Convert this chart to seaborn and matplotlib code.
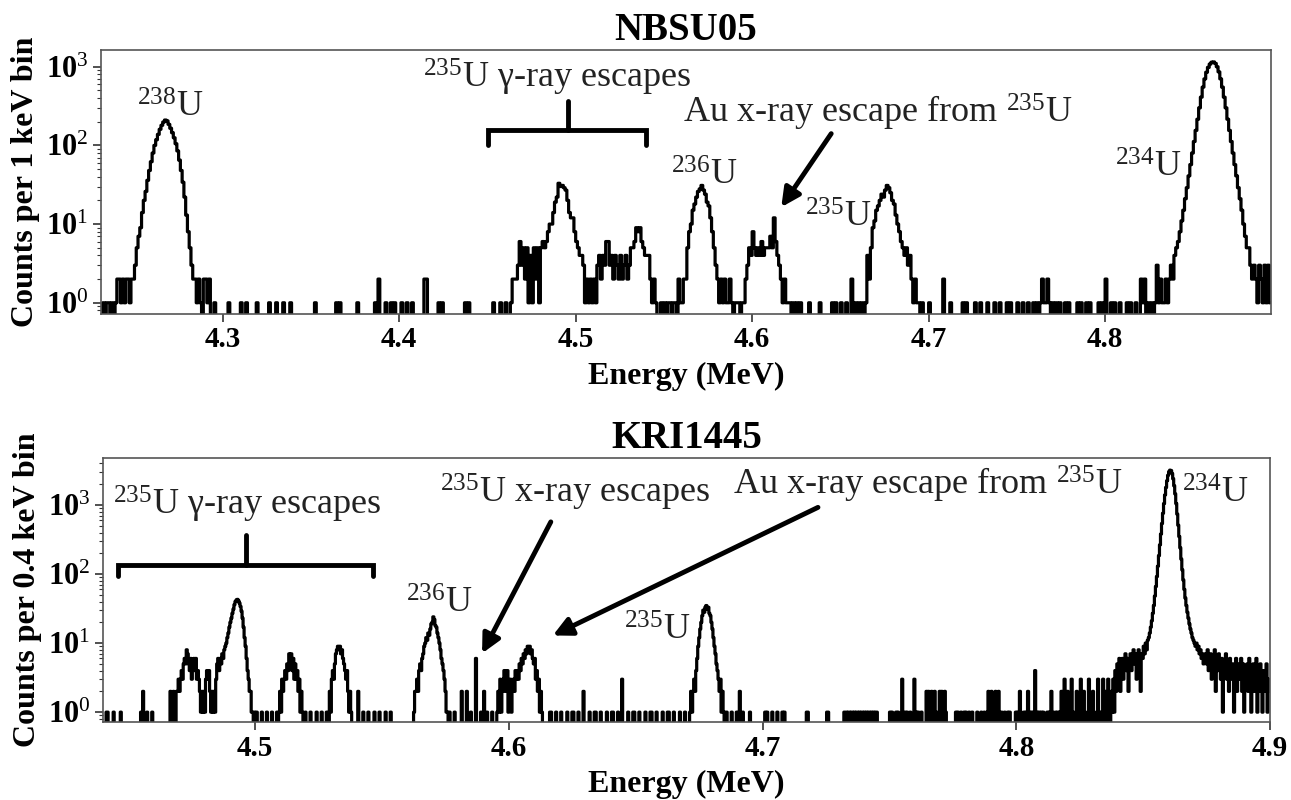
import numpy as np
import pandas as pd
import matplotlib
matplotlib.use("Agg")
import matplotlib.pyplot as plt
import matplotlib.transforms as mtransforms
from matplotlib.ticker import FixedLocator, FuncFormatter, LogLocator, NullFormatter
import seaborn as sns

# ---------------------------------------------------------------- data ----
# binning of the two spectra (MeV)
top_lo, top_hi, top_bin = 4.231, 4.894, 0.001
bot_lo, bot_hi, bot_bin = 4.440, 4.900, 0.0004

# NBSU05, 1 keV bins: peak segments (first-bin energy, counts per bin)
top_u238_start = 4.232
top_u238 = [1, 0, 1, 1, 0, 1, 0, 1, 2, 2, 1, 2, 1, 2, 2, 1, 2,
            2, 3, 5, 7, 9, 14, 20, 26, 36, 48, 62, 80, 100, 118, 138, 160, 180, 198,
            210, 205, 185, 165, 145, 125, 105, 85, 65, 48, 34, 22, 13, 8, 5, 3, 2, 2,
            1, 2, 1, 0, 2, 2, 1, 2, 0, 0, 1]
top_esc_start = 4.462
top_esc = [0, 1, 2, 2, 2, 3, 6, 3, 5, 2, 5, 1, 4, 1, 5, 2, 5, 1, 5, 6, 5, 6, 8, 10, 10,
           14, 19, 22, 33, 30, 31, 29, 27, 20, 14, 12, 12, 8, 6, 5, 4, 4, 3, 1, 2, 1, 2,
           1, 2, 1, 3, 4, 2, 4, 3, 6, 6, 3, 4, 2, 4, 3, 2, 4, 2, 3, 4, 2, 3, 5, 5, 6, 9,
           8, 9, 6, 5, 4, 4, 4, 2, 1, 2, 1, 0, 0, 1, 0, 1, 0, 1, 1, 0, 1, 1, 0, 2, 1]
top_u236_start = 4.560
top_u236 = [1, 2, 2, 5, 8, 10, 15, 18, 22, 26, 28, 31, 27, 24, 19, 17, 12, 8, 5, 3, 2,
            1, 2, 1, 2, 1, 1, 2, 1, 0, 1, 1, 1, 0, 1, 1, 2]
top_au_start = 4.597
top_au = [3, 5, 4, 8, 5, 4, 5, 4, 6, 4, 5, 5, 5, 7, 5, 12, 6, 4, 3, 2, 1, 2, 1]
top_u235_start = 4.660
top_u235 = [1, 0, 1, 0, 1, 4, 2, 5, 9, 11, 15, 17, 20, 24, 22, 27, 31, 29, 25, 20, 18,
            13, 10, 8, 6, 5, 4, 5, 3, 4, 2, 1, 2, 1, 1, 0, 1]
top_u234_start = 4.836
top_u234 = [2, 3, 2, 4, 5, 6, 8, 11, 15, 21, 29, 41, 57, 80, 112, 155, 215, 300, 410,
            550, 700, 850, 980, 1080, 1140, 1150, 1100, 1000, 860, 700, 550, 410, 300,
            215, 155, 112, 80, 57, 41, 29, 21, 15, 10, 7, 5, 5, 3, 2, 3, 2, 1, 3, 2, 1,
            3, 1, 3, 1]
# isolated single counts and small multi-count bins
top_ones = [4.3033, 4.3103, 4.3138, 4.3197, 4.3267, 4.3301, 4.3348, 4.3383, 4.3523,
            4.3640, 4.3663, 4.3768, 4.3861, 4.3920, 4.3955, 4.3978, 4.4012, 4.4048,
            4.4071, 4.4223, 4.4246, 4.4374, 4.4397, 4.4537, 4.4572, 4.4606, 4.620,
            4.621, 4.623, 4.625, 4.627, 4.632, 4.638, 4.645, 4.647, 4.650, 4.653, 4.658,
            4.700, 4.712, 4.719, 4.721, 4.726, 4.729, 4.733, 4.737, 4.740, 4.744, 4.746,
            4.750, 4.753, 4.756, 4.759, 4.761, 4.763, 4.765, 4.766, 4.768, 4.770, 4.772,
            4.774, 4.777, 4.779, 4.784, 4.786, 4.789, 4.791, 4.796, 4.798, 4.803, 4.805,
            4.808, 4.812, 4.814, 4.817, 4.821, 4.824, 4.826, 4.828, 4.830, 4.832, 4.833,
            4.835]
top_multi_e = [4.3885, 4.4141, 4.4153, 4.656, 4.708, 4.764, 4.767, 4.800, 4.820, 4.822,
               4.829, 4.831, 4.834]
top_multi_n = [2, 2, 2, 2, 2, 2, 2, 2, 2, 2, 3, 2, 2]

# KRI1445, 0.4 keV bins
bot_esc1_start = 4.4680
bot_esc1 = [1, 0, 2, 2, 3, 2, 3, 4, 3, 5, 6, 5, 8, 7, 5, 4, 6, 3, 5, 6, 4, 6, 3, 4, 3,
            2, 1, 2, 1, 2, 1, 3, 4, 3, 4, 2, 1, 2, 1,
            2, 1, 3, 5, 6, 4, 6, 5, 7, 6, 8, 9, 10, 12, 14, 17, 20, 23, 27, 31, 36, 40,
            42, 43, 41, 38, 34, 29, 23, 17, 12, 9, 6, 4, 3, 2, 2, 1, 1, 0, 1]
bot_esc2_start = 4.5092
bot_esc2 = [1, 2, 1, 3, 2, 3, 4, 3, 5, 4, 7, 6, 7, 4, 6, 3, 5, 3, 4, 2, 3, 1, 2, 1]
bot_esc3_start = 4.5292
bot_esc3 = [2, 1, 3, 4, 3, 5, 7, 8, 9, 8, 9, 7, 8, 6, 5, 4, 3, 4, 2, 1, 2, 1]
bot_u236_start = 4.5624
bot_u236 = [1, 2, 2, 3, 2, 4, 5, 4, 6, 7, 9, 10, 12, 11, 14, 13, 16, 19, 20, 24, 22,
            18, 17, 14, 12, 10, 8, 6, 5, 4, 3, 2, 1, 1]
bot_au_start = 4.5952
bot_au = [1, 2, 1, 3, 1, 2, 3, 4, 2, 3, 4, 1, 2, 3, 1, 2, 3, 2, 4, 3, 4, 3, 5, 4, 6,
          5, 7, 6, 8, 7, 9, 8, 9, 7, 8, 6, 5, 6, 3, 4, 2, 3, 1, 2, 1]
bot_u235_start = 4.6712
bot_u235 = [1, 2, 1, 2, 3, 2, 4, 6, 9, 12, 16, 20, 25, 30, 28, 33, 35, 31, 33, 27, 25,
            20, 16, 12, 9, 7, 5, 4, 3, 2, 3, 1, 2, 1, 0, 1]
bot_u234_start = 4.8380
bot_u234 = [3, 1, 4, 2, 5, 3, 6, 2, 4, 6, 3, 5, 7, 4, 6, 2, 5, 7, 4, 6, 8, 5, 7, 3, 6,
            8, 5, 2, 7, 6, 9, 7, 10, 8, 11,
            12, 14, 17, 21, 27, 35, 48, 66, 92, 130, 185, 265, 380, 540, 760, 1050,
            1400, 1800, 2250, 2700, 3050, 3200, 3150, 2850, 2400, 1900, 1450, 1050, 740,
            510, 350, 240, 165, 115, 82, 60, 45, 35, 28, 23, 19, 16, 14, 12, 11, 10, 9,
            10, 8, 9, 7, 8, 6, 7, 5, 6,
            7, 5, 8, 4, 6, 7, 3, 6, 5, 8, 2, 6, 4, 7, 5, 3, 6, 1, 5, 4, 7, 3, 5, 2, 6,
            4, 3, 5, 1, 4, 6, 2, 5, 3, 4, 6, 2, 5, 1, 4, 3, 5, 2, 6, 3, 1, 4, 5, 2, 3,
            6, 1, 4, 2, 5, 3, 1, 4, 2, 3, 5, 1, 3, 2]
bot_ones = [4.4412, 4.4416, 4.4440, 4.4468, 4.4548, 4.4552, 4.4572, 4.4592,
            4.5004, 4.5024, 4.5044, 4.5064, 4.5084,
            4.5196, 4.5216, 4.5240, 4.5260, 4.5280,
            4.5424, 4.5444, 4.5468, 4.5488, 4.5512, 4.5532,
            4.5764, 4.5784, 4.5848, 4.5888, 4.5912, 4.5932,
            4.6160, 4.6164, 4.6184, 4.6204, 4.6228, 4.6248, 4.6252, 4.6272, 4.6316,
            4.6336, 4.6340, 4.6360, 4.6384, 4.6404, 4.6408, 4.6428, 4.6468, 4.6488,
            4.6492, 4.6512, 4.6536, 4.6556, 4.6560, 4.6580, 4.6604, 4.6624, 4.6628,
            4.6648, 4.6672, 4.6692,
            4.6856, 4.6876, 4.6896, 4.6920, 4.6948,
            4.7008, 4.7016, 4.7036, 4.7056, 4.7076, 4.7084, 4.7172, 4.7176,
            4.7252, 4.7256, 4.7320, 4.7324, 4.7328, 4.7336, 4.7340, 4.7348, 4.7352,
            4.7360, 4.7368, 4.7372, 4.7380, 4.7388, 4.7392, 4.7400, 4.7408, 4.7416,
            4.7420, 4.7428, 4.7436, 4.7444, 4.7448, 4.7500, 4.7508, 4.7524,
            4.7532, 4.7560, 4.7568, 4.7580, 4.7604, 4.7612, 4.7624, 4.7680, 4.7692,
            4.7708, 4.7720, 4.7760, 4.7768, 4.7780, 4.7792, 4.7800, 4.7812, 4.7824,
            4.7844, 4.7860, 4.7872, 4.7884, 4.7940, 4.7952, 4.7964, 4.7972, 4.7996,
            4.8004, 4.8016, 4.8028, 4.8036, 4.8048, 4.8056, 4.8064, 4.8080, 4.8088,
            4.8096, 4.8104, 4.8120, 4.8128, 4.8140, 4.8152, 4.8160, 4.8168, 4.8196,
            4.8208, 4.8220, 4.8232, 4.8244, 4.8256, 4.8268, 4.8280, 4.8296, 4.8304,
            4.8316, 4.8328, 4.8336, 4.8352, 4.8364, 4.8376]
bot_multi_e = [4.4556, 4.4664, 4.4676, 4.5404, 4.5812, 4.5832, 4.5868, 4.5900, 4.6292,
               4.6444, 4.6908, 4.7548, 4.7596, 4.7644, 4.7652, 4.7664, 4.7676, 4.7696,
               4.7704, 4.7716, 4.7888, 4.7900, 4.7916, 4.7928, 4.8012, 4.8044, 4.8072,
               4.8136, 4.8176, 4.8188, 4.8200, 4.8216, 4.8236, 4.8252, 4.8264, 4.8284,
               4.8300, 4.8320, 4.8340, 4.8348, 4.8360, 4.8372]
bot_multi_n = [2, 2, 2, 2, 2, 2, 6, 2, 2, 3, 2, 3, 3, 2, 2, 2, 2, 2, 2, 2, 2, 2, 2, 2,
               2, 2, 4, 2, 2, 3, 2, 3, 2, 3, 2, 3, 2, 3, 3, 2, 3, 2]

top_xticks = [4.3, 4.4, 4.5, 4.6, 4.7, 4.8]
bot_xticks = [4.5, 4.6, 4.7, 4.8, 4.9]
y_ticks = [1, 10, 100, 1000]


# ------------------------------------------------------------ helpers ----
def build(lo, hi, bw, segments, ones, multi_e, multi_n):
    n = int(round((hi - lo) / bw))
    idx = lambda e: int(np.floor((e - lo) / bw + 1e-6))
    counts = np.zeros(n)
    for e in ones:
        counts[idx(e)] = 1
    for e, c in zip(multi_e, multi_n):
        counts[idx(e)] = c
    for start, vals in segments:
        i0 = idx(start)
        counts[i0:i0 + len(vals)] = vals
    centers = lo + (np.arange(n) + 0.5) * bw
    return pd.DataFrame({"E": centers, "N": np.where(counts > 0, counts, 0.4)})


top_df = build(top_lo, top_hi, top_bin,
               [(top_u238_start, top_u238), (top_esc_start, top_esc),
                (top_u236_start, top_u236), (top_au_start, top_au),
                (top_u235_start, top_u235), (top_u234_start, top_u234)],
               top_ones, top_multi_e, top_multi_n)
bot_df = build(bot_lo, bot_hi, bot_bin,
               [(bot_esc1_start, bot_esc1), (bot_esc2_start, bot_esc2),
                (bot_esc3_start, bot_esc3), (bot_u236_start, bot_u236),
                (bot_au_start, bot_au), (bot_u235_start, bot_u235),
                (bot_u234_start, bot_u234)],
               bot_ones, bot_multi_e, bot_multi_n)

# -------------------------------------------------------------- style ----
sns.set_theme(style="ticks")
plt.rcParams["font.family"] = ["Liberation Serif", "DejaVu Serif"]
plt.rcParams["mathtext.fontset"] = "custom"
plt.rcParams["mathtext.rm"] = "Liberation Serif"
plt.rcParams["mathtext.it"] = "Liberation Serif:italic"
plt.rcParams["mathtext.bf"] = "Liberation Serif:bold"
plt.rcParams["text.color"] = "black"
plt.rcParams["axes.labelcolor"] = "black"
plt.rcParams["axes.titlecolor"] = "black"

XTICK_FS = 21
YTICK_FS = 22
LABEL_FS = 23
TITLE_FS = 28
ANN_FS = 26

fig = plt.figure(figsize=(12.91, 8.0), dpi=100)
ax_top = fig.add_axes([0.0782, 0.6075, 0.9063, 0.33])
ax_bot = fig.add_axes([0.0798, 0.0975, 0.9040, 0.33])


def style_axis(ax, xlim, ylim, xticks, ylabel, title):
    ax.set_yscale("log")
    ax.set_xlim(*xlim)
    ax.set_ylim(*ylim)
    ax.set_xticks(xticks)
    ax.set_xticklabels([f"{t:.1f}" for t in xticks], fontsize=XTICK_FS, fontweight="bold")
    ax.yaxis.set_major_locator(FixedLocator(y_ticks))
    ax.yaxis.set_major_formatter(FuncFormatter(
        lambda v, p: r"$\mathbf{10}^{\mathrm{%d}}$" % int(round(np.log10(v)))))
    ax.yaxis.set_minor_locator(LogLocator(base=10, subs=np.arange(2, 10)))
    ax.yaxis.set_minor_formatter(NullFormatter())
    for lab in ax.get_yticklabels():
        lab.set_fontsize(YTICK_FS)
    ax.tick_params(axis="both", which="major", direction="out", length=6, width=1.2,
                   colors="#333333", labelcolor="black", pad=3)
    ax.tick_params(axis="y", which="minor", direction="out", length=3, width=0.8,
                   colors="#333333")
    ax.tick_params(top=False, right=False)
    for sp in ax.spines.values():
        sp.set_visible(True)
        sp.set_linewidth(1.2)
        sp.set_color("#555555")
    ax.set_xlabel("Energy (MeV)", fontsize=LABEL_FS, fontweight="bold", labelpad=6,
                  color="black")
    ax.set_ylabel(ylabel, fontsize=LABEL_FS, fontweight="bold", labelpad=4,
                  color="black")
    ax.set_title(title, fontsize=TITLE_FS, fontweight="bold", pad=7, color="black")


for ax, df in ((ax_top, top_df), (ax_bot, bot_df)):
    sns.lineplot(data=df, x="E", y="N", ax=ax, color="black", lw=2.3,
                 drawstyle="steps-mid", estimator=None, sort=False)

style_axis(ax_top, (top_lo, top_hi), (0.72, 1630), top_xticks,
           "Counts per 1 keV bin", "NBSU05")
style_axis(ax_bot, (bot_lo, bot_hi), (0.72, 4800), bot_xticks,
           "Counts per 0.4 keV bin", "KRI1445")


# -------------------------------------------------------- annotations ----
def label(ax, x, yfrac, s):
    tr = mtransforms.blended_transform_factory(ax.transData, ax.transAxes)
    ax.text(x, yfrac, s, transform=tr, ha="center", va="baseline",
            fontsize=ANN_FS, color="#222222")


def bracket(ax, x0, x1, xc, ybar, yleg, ytip):
    ax.plot([x0, x0, x1, x1], [yleg, ybar, ybar, yleg], color="black", lw=3.5,
            solid_joinstyle="miter")
    ax.plot([xc, xc], [ybar, ytip], color="black", lw=3.5)


def arrow(ax, xy_from, xy_to):
    ax.annotate("", xy=xy_to, xytext=xy_from,
                arrowprops=dict(arrowstyle="-|>", color="black", lw=3.5,
                                mutation_scale=28, shrinkA=0, shrinkB=0))


label(ax_top, 4.2703, 0.746, r"$^{238}$U")
label(ax_top, 4.4898, 0.856, r"$^{235}$U γ-ray escapes")
label(ax_top, 4.6711, 0.723, r"Au x-ray escape from $^{235}$U")
label(ax_top, 4.5728, 0.489, r"$^{236}$U")
label(ax_top, 4.6487, 0.330, r"$^{235}$U")
label(ax_top, 4.8244, 0.519, r"$^{234}$U")
bracket(ax_top, 4.4504, 4.5400, 4.4958, 155, 100, 370)
arrow(ax_top, (4.6448, 141), (4.6165, 16.4))

label(ax_bot, 4.4969, 0.784, r"$^{235}$U γ-ray escapes")
label(ax_bot, 4.6260, 0.830, r"$^{235}$U x-ray escapes")
label(ax_bot, 4.7650, 0.860, r"Au x-ray escape from $^{235}$U")
label(ax_bot, 4.5723, 0.413, r"$^{236}$U")
label(ax_bot, 4.6583, 0.311, r"$^{235}$U")
label(ax_bot, 4.8783, 0.830, r"$^{234}$U")
bracket(ax_bot, 4.4461, 4.5463, 4.4965, 134, 95, 362)
arrow(ax_bot, (4.6165, 570), (4.5894, 7.1))
arrow(ax_bot, (4.7218, 925), (4.6173, 12.9))

fig.savefig("out.png", dpi=100)
